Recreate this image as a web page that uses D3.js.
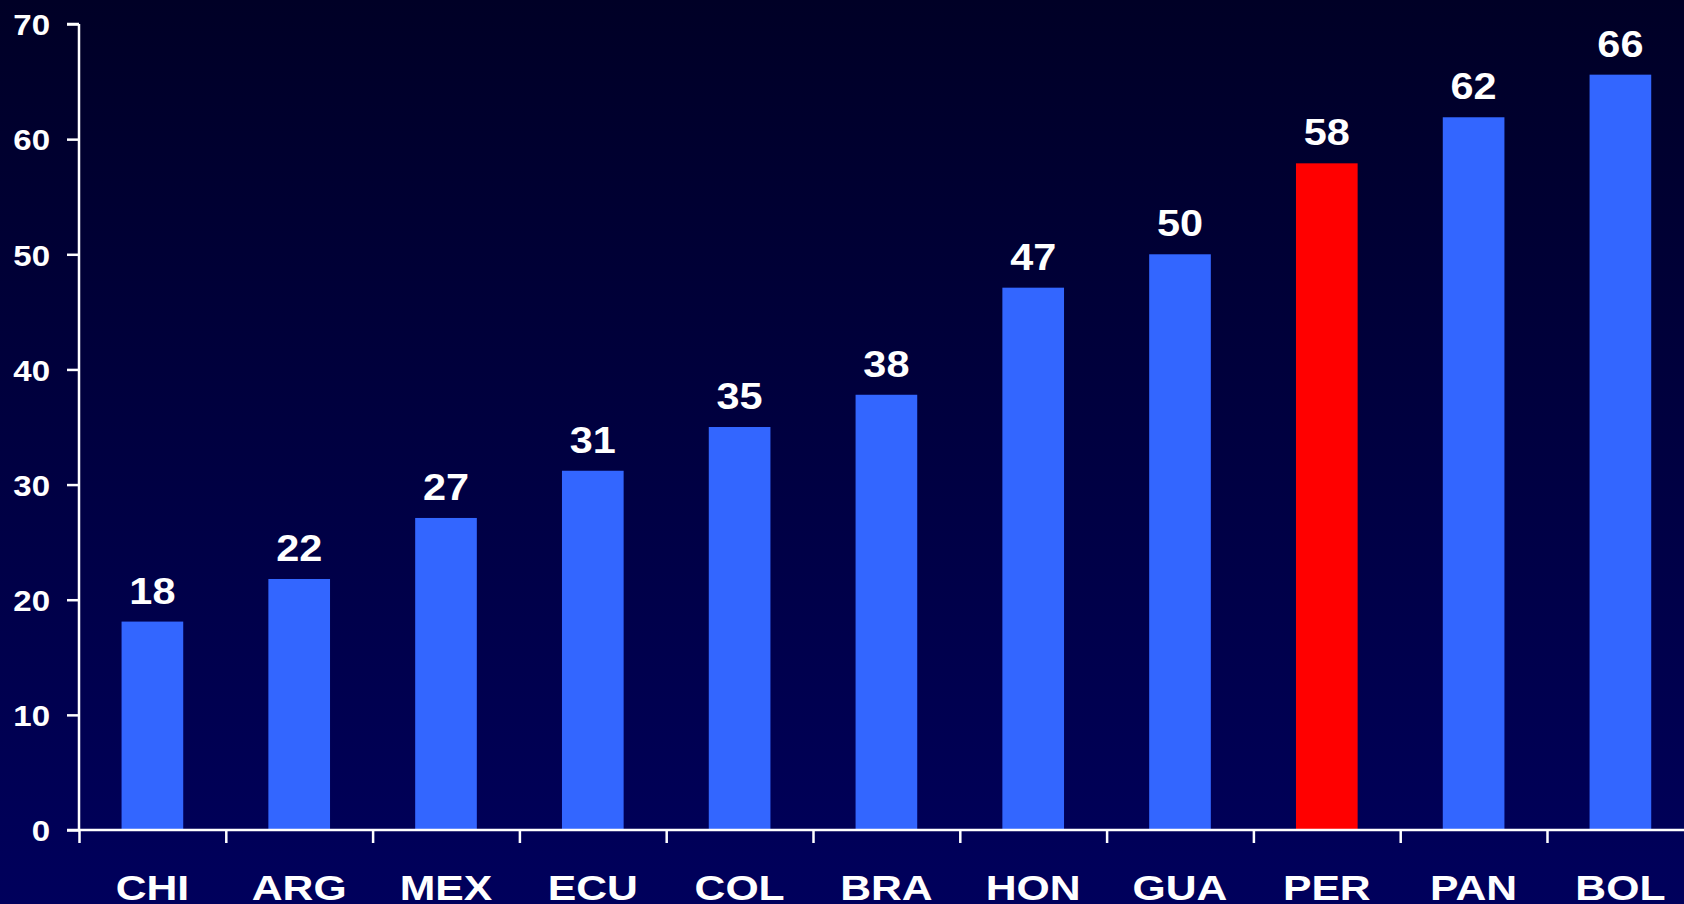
<!DOCTYPE html>
<html>
<head>
<meta charset="utf-8">
<script src="https://cdn.jsdelivr.net/npm/d3@7/dist/d3.min.js"></script>
<style>
html,body{margin:0;padding:0;background:#000040;overflow:hidden;}
svg{display:block;}
text{font-family:"Liberation Sans",Arial,sans-serif;font-weight:bold;fill:#fff;}
</style>
</head>
<body>
<script>
const categories = ["CHI","ARG","MEX","ECU","COL","BRA","HON","GUA","PER","PAN","BOL"];
const values = [18.1, 21.8, 27.1, 31.2, 35.0, 37.8, 47.1, 50.0, 57.9, 61.9, 65.6];
const labels = ["18","22","27","31","35","38","47","50","58","62","66"];
const highlight = ["PER"];
const yTicks = [0,10,20,30,40,50,60,70];

const W = 1684, H = 904;
const svg = d3.select("body").append("svg").attr("width", W).attr("height", H);

const defs = svg.append("defs");
const grad = defs.append("linearGradient").attr("id","bg").attr("x1",0).attr("y1",0).attr("x2",0).attr("y2",1);
grad.append("stop").attr("offset","0%").attr("stop-color","#000026");
grad.append("stop").attr("offset","100%").attr("stop-color","#00005C");
svg.append("rect").attr("width",W).attr("height",H).attr("fill","url(#bg)");

const x0 = 79, step = 146.8;
const x = d3.scaleBand().domain(categories).range([x0, x0 + step*categories.length]).paddingInner(0.58).paddingOuter(0.29);
const y = d3.scaleLinear().domain([0,70]).range([830, 24]);

// bars
svg.append("g").selectAll("rect").data(categories).join("rect")
  .attr("x", d => x(d))
  .attr("y", (d,i) => y(values[i]))
  .attr("width", x.bandwidth())
  .attr("height", (d,i) => y(0) - y(values[i]))
  .attr("fill", d => highlight.includes(d) ? "#FF0000" : "#3366FF");

// value labels
svg.append("g").selectAll("text").data(categories).join("text")
  .attr("transform", (d,i) => `translate(${x(d) + x.bandwidth()/2},${y(values[i]) - 18}) scale(1.12,1)`)
  .attr("text-anchor","middle")
  .style("font-size","37px")
  .text((d,i) => labels[i]);

// y axis
const yAxis = svg.append("g").attr("transform", `translate(${x0},0)`)
  .call(d3.axisLeft(y).tickValues(yTicks).tickSize(12).tickPadding(17).tickFormat(d3.format("d")));
yAxis.select(".domain").attr("stroke","#fff").attr("stroke-width",2.5)
  .attr("d", `M0,${y(70)}H-12M0,${y(70)}V${y(0)}`);
yAxis.selectAll("line").attr("stroke","#fff").attr("stroke-width",2.5);
yAxis.selectAll("text").style("font-size","30px").style("fill","#fff")
  .attr("dy","0.36em").attr("x", -29/1.1).attr("transform","scale(1.1,1)");

// x axis line & boundary ticks
const xb = d3.scaleLinear().domain([0, categories.length]).range([x0, x0 + step*categories.length]);
const xAxis = svg.append("g").attr("transform", `translate(0,${y(0)})`)
  .call(d3.axisBottom(xb).tickValues(d3.range(categories.length+1)).tickSize(13).tickFormat(""));
xAxis.select(".domain").attr("stroke","#fff").attr("stroke-width",2.5).attr("d", `M${x0-12},0H${W+20}`);
xAxis.selectAll("line").attr("stroke","#fff").attr("stroke-width",2.5);

// category labels
svg.append("g").selectAll("text").data(categories).join("text")
  .attr("transform", d => `translate(${x(d) + x.bandwidth()/2},900) scale(1.22,1)`)
  .attr("text-anchor","middle")
  .style("font-size","35px")
  .text(d => d);
</script>
</body>
</html>
